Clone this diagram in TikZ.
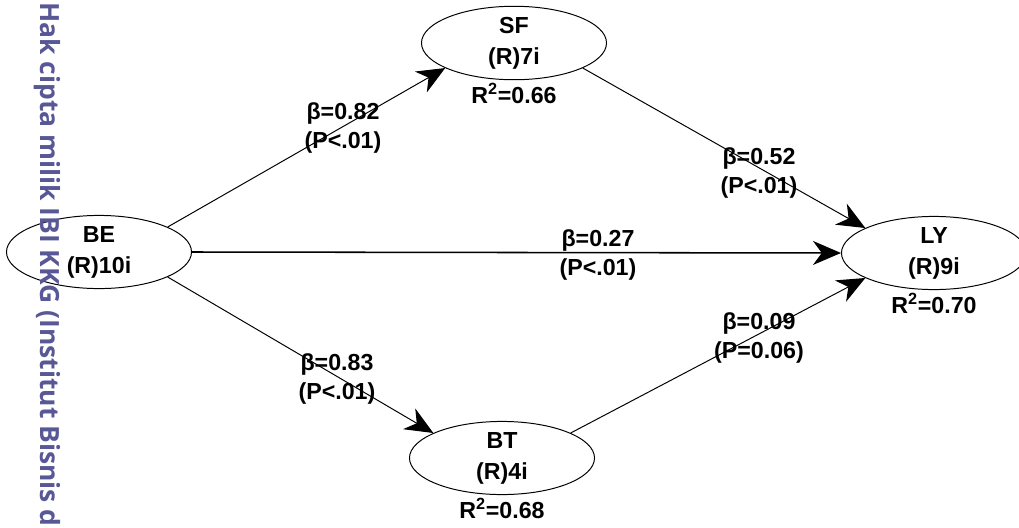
\documentclass[tikz,border=0pt]{standalone}
\usepackage{fontspec}
\setmainfont{Liberation Sans}
\newfontfamily\wmfont{Open Sans}
\usetikzlibrary{arrows.meta, positioning, shapes.geometric}
\definecolor{wmblue}{RGB}{88,88,150}
\begin{document}
\begin{tikzpicture}[x=0.025cm, y=-0.025cm,
  latent/.style={ellipse, draw, line width=0.7pt, minimum width=4.625cm,
    minimum height=1.65cm, inner sep=0pt, align=center,
    font=\fontsize{16.5}{22}\selectfont\bfseries},
  lbl/.style={align=center, inner sep=0pt,
    font=\fontsize{16.5}{21}\selectfont\bfseries},
  rsq/.style={inner sep=0pt, font=\fontsize{16.5}{21}\selectfont\bfseries},
  link/.style={line width=0.7pt,
    -{Stealth[length=0.7cm, width=0.6cm, inset=0.22cm]}}]
\useasboundingbox (0,0) rectangle (1019,527);
% constructs
\node[latent] (BE) at (99,252) {BE\\(R)10i};
\node[latent] (SF) at (514,43) {SF\\(R)7i};
\node[latent] (BT) at (502,458) {BT\\(R)4i};
\node[latent] (LY) at (934,253) {LY\\(R)9i};
\node[rsq, below=2pt of SF] (SFr) {R\textsuperscript{2}=0.66};
\node[rsq, below=2pt of BT] (BTr) {R\textsuperscript{2}=0.68};
\node[rsq, below=2pt of LY] (LYr) {R\textsuperscript{2}=0.70};
% paths
\draw[link] (BE.20) -- (SF.200);
\draw[link] (SF.-20) -- (LY.160);
\draw[link, line width=1.1pt] (BE.east) -- (LY.west);
\draw[link] (BE.-20) -- (BT.160);
\draw[link] (BT.20) -- (LY.200);
\node[lbl] (bSF) at (343,128) {β=0.82\\(P<.01)};
\node[lbl] (bSL) at (759,173) {β=0.52\\(P<.01)};
\node[lbl] (bEL) at (598,255) {β=0.27\\(P<.01)};
\node[lbl] (bET) at (337,379) {β=0.83\\(P<.01)};
\node[lbl] (bTL) at (759,338) {β=0.09\\(P=0.06)};
% watermark
\node[rotate=-90, anchor=west, text=wmblue, inner sep=0pt,
  font=\wmfont\bfseries\fontsize{18.8}{22}\selectfont] (wm) at (47,2)
  {Hak cipta milik IBI KKG (Institut Bisnis d};
\end{tikzpicture}
\end{document}
